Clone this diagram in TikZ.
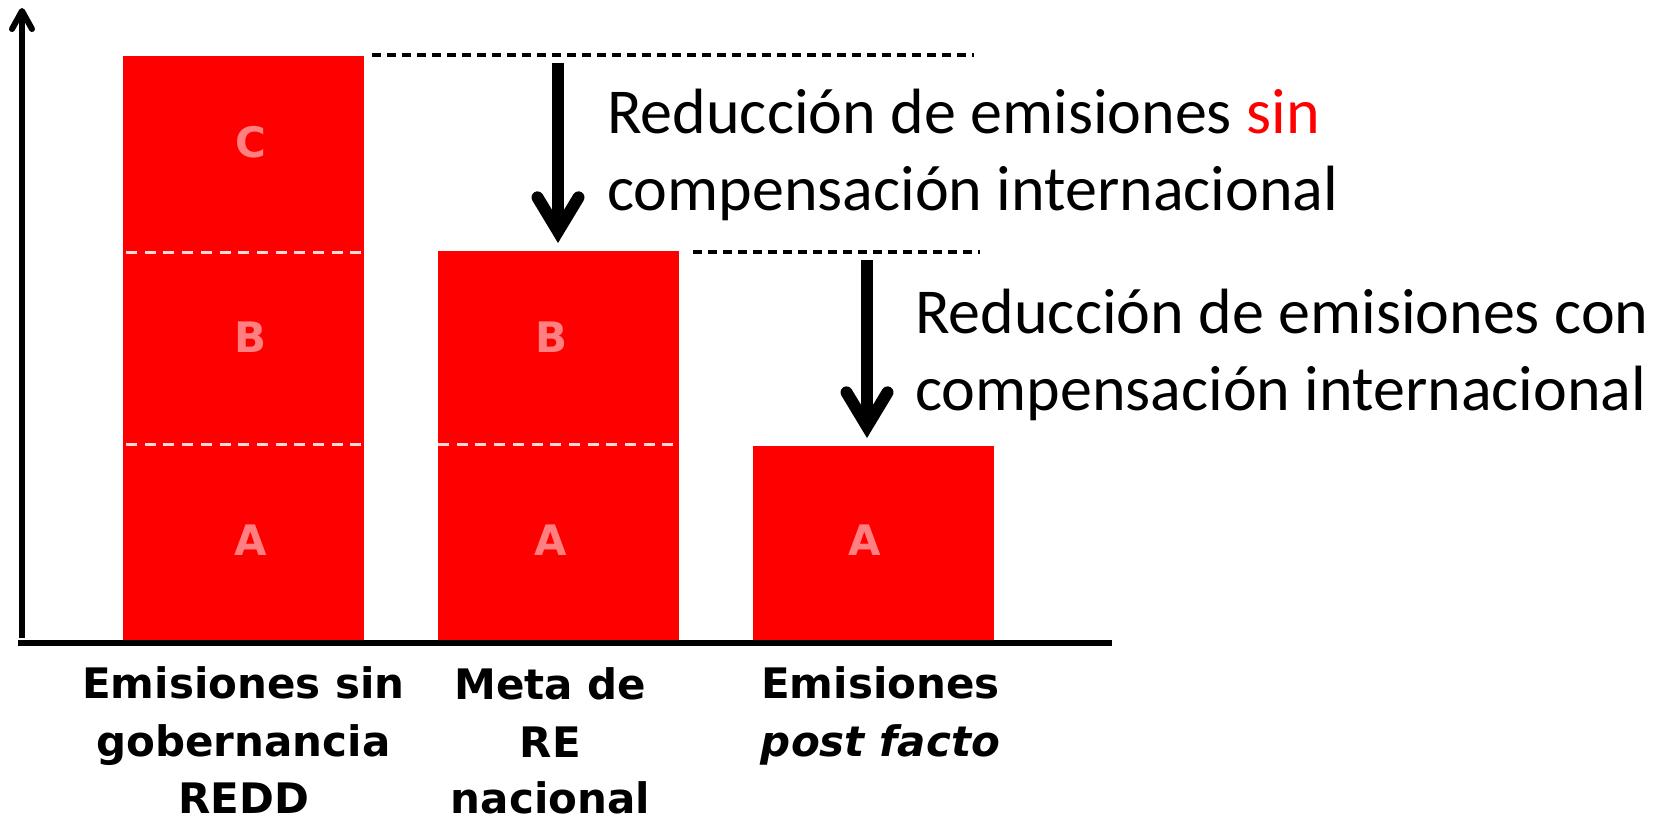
\documentclass[tikz,border=0pt]{standalone}
\usepackage{fontspec}
\setmainfont{Carlito}
\newfontfamily\lblfont{DejaVu Sans}
\usetikzlibrary{arrows.meta}
\definecolor{barred}{RGB}{255,0,0}
\definecolor{letterpink}{RGB}{255,128,128}
\definecolor{segline}{RGB}{255,215,215}
\begin{document}
\begin{tikzpicture}[x=1pt,y=-1pt,
  bar/.style={fill=barred, draw=none, inner sep=0pt, outer sep=0pt, anchor=north west, minimum width=241pt},
  seg/.style={draw=segline, line width=3pt, dash pattern=on 11pt off 7.7pt},
  level/.style={draw=black, line width=3.4pt, dash pattern=on 9pt off 6pt},
  axisline/.style={line width=6pt},
  bigarrow/.style={line width=12pt, -{Straight Barb[length=34pt,width=41pt,line cap=round,line join=miter]}},
  letter/.style={text=letterpink, font=\lblfont\bfseries\fontsize{42}{50}\selectfont, inner sep=0pt},
  cat/.style={font=\lblfont\bfseries\fontsize{42}{58}\selectfont, inner sep=0pt, anchor=base},
  note/.style={font=\fontsize{64}{77}\selectfont, inner sep=0pt, anchor=base west}
]
\useasboundingbox (0,0) rectangle (1656,816);

% bars
\node[bar, minimum height=584pt] (bar1) at (123,56) {};
\node[bar, minimum height=389pt] (bar2) at (438,251) {};
\node[bar, minimum height=194pt] (bar3) at (753,446) {};

% segment separators
\draw[seg] (126,252) -- (361,252);
\draw[seg] (126,444) -- (361,444);
\draw[seg] (438,444) -- (676,444);

% segment letters
\node[letter] (c1) at (251,142) {C};
\node[letter] (b1) at (251,337) {B};
\node[letter] (a1) at (251,540) {A};
\node[letter] (b2) at (551,337) {B};
\node[letter] (a2) at (551,540) {A};
\node[letter] (a3) at (865,540) {A};

% level lines
\coordinate (lv1s) at (372,55);
\coordinate (lv1e) at (974,55);
\coordinate (lv2s) at (693,252);
\coordinate (lv2e) at (980,252);
\draw[level] (lv1s) -- (lv1e);
\draw[level] (lv2s) -- (lv2e);

% reduction arrows
\coordinate (ar1s) at (558,63);
\coordinate (ar1e) at (558,243);
\coordinate (ar2s) at (867,260);
\coordinate (ar2e) at (867,438);
\draw[bigarrow] (ar1s) -- (ar1e);
\draw[bigarrow] (ar2s) -- (ar2e);

% axes
\coordinate (ybot) at (22,638);
\coordinate (ytop) at (22,8);
\coordinate (xl) at (18,643);
\coordinate (xr) at (1112,643);
\draw[axisline, -{Straight Barb[length=18pt,width=20pt,round]}] (ybot) -- (ytop);
\draw[axisline] (xl) -- (xr);

% annotations
\node[note] (t1a) at (607,133) {Reducción de emisiones \textcolor{red}{sin}};
\node[note] (t1b) at (607,210) {compensación internacional};
\node[note] (t2a) at (915,333) {Reducción de emisiones con};
\node[note] (t2b) at (915,410) {compensación internacional};

% category labels
\node[cat] (e1a) at (243.5,698) {Emisiones sin};
\node[cat] (e1b) at (243.5,756) {gobernancia};
\node[cat] (e1c) at (243.5,813) {REDD};
\node[cat] (m2a) at (550.5,699) {Meta de};
\node[cat] (m2b) at (550.5,757) {RE};
\node[cat] (m2c) at (550.5,813) {nacional};
\node[cat] (p3a) at (880.5,698) {Emisiones};
\node[cat] (p3b) at (880.5,756) {\itshape post facto};
\end{tikzpicture}
\end{document}
